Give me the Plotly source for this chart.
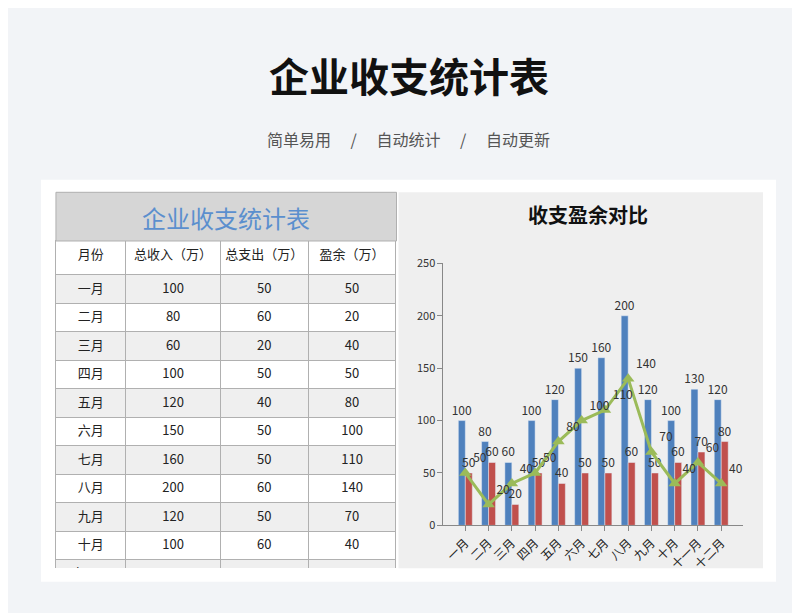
import plotly.graph_objects as go

months = ['一月', '二月', '三月', '四月', '五月', '六月', '七月', '八月', '九月', '十月', '十一月', '十二月']
income = [100, 80, 60, 100, 120, 150, 160, 200, 120, 100, 130, 120]
expense = [50, 60, 20, 50, 40, 50, 50, 60, 50, 60, 70, 80]
surplus = [50, 20, 40, 50, 80, 100, 110, 140, 70, 40, 60, 40]
headers = ['月份', '总收入（万）', '总支出（万）', '盈余（万）']

FONT = 'Noto Sans CJK SC'
fills = ['#efefef' if i % 2 == 0 else '#ffffff' for i in range(len(months))]

fig = go.Figure()

fig.add_trace(go.Table(
    domain=dict(x=[47/800, 388/800], y=[1-566/613, 1-230/613]),
    columnwidth=[70, 95, 88, 88],
    header=dict(values=headers, fill_color='white', line_color='#b0b0b0',
                font=dict(family=FONT, size=13, color='#222'), height=34, align='center'),
    cells=dict(values=[months, income, expense, surplus], fill_color=[fills]*4,
               line_color='#b0b0b0', font=dict(family=FONT, size=13, color='#222'),
               height=28.5, align='center'),
))

fig.add_trace(go.Bar(x=months, y=income, marker_color='#4f81bd', text=income,
                     textposition='outside', cliponaxis=False, width=0.3, offset=-0.3,
                     constraintext='none', textfont=dict(size=12, color='#333')))
fig.add_trace(go.Bar(x=months, y=expense, marker_color='#c0504d', text=expense,
                     textposition='outside', cliponaxis=False, width=0.3, offset=0.0,
                     constraintext='none', textfont=dict(size=12, color='#333')))
fig.add_trace(go.Scatter(x=months, y=surplus, mode='lines+markers+text', text=surplus,
                         textposition='top right', cliponaxis=False,
                         line=dict(color='#9bbb59', width=3),
                         marker=dict(symbol='triangle-up', size=11, color='#9bbb59'),
                         textfont=dict(size=12, color='#333')))

fig.update_layout(
    width=800, height=613, margin=dict(l=0, r=0, t=0, b=0),
    paper_bgcolor='#f2f4f7', plot_bgcolor='rgba(0,0,0,0)', showlegend=False,
    font=dict(family=FONT),
    barmode='overlay',
    xaxis=dict(domain=[435/800, 735/800], tickangle=-45, showgrid=False,
               showline=True, linecolor='#888', ticks='outside', tickcolor='#888',
               tickfont=dict(size=12, color='#222')),
    yaxis=dict(domain=[1-522/613, 1-253/613], range=[0, 250], dtick=50, showgrid=False,
               showline=True, linecolor='#888', ticks='outside', tickcolor='#888',
               tickfont=dict(size=11, color='#333'), zeroline=False),
    shapes=[
        dict(type='rect', xref='paper', yref='paper', x0=32/800, x1=768/800,
             y0=1-580/613, y1=1-167/613, fillcolor='white', line_width=0, layer='below'),
        dict(type='rect', xref='paper', yref='paper', x0=390/800, x1=755/800,
             y0=1-566/613, y1=1-180/613, fillcolor='#efefef', line_width=0, layer='below'),
        dict(type='rect', xref='paper', yref='paper', x0=47/800, x1=388/800,
             y0=1-230/613, y1=1-180/613, fillcolor='#d6d6d6', line=dict(color='#b0b0b0', width=1)),
    ],
    annotations=[
        dict(text='<b>企业收支统计表</b>', x=0.5, y=1-60/613, xref='paper', yref='paper',
             xanchor='center', yanchor='middle', showarrow=False, font=dict(size=40, color='#111')),
        dict(text='简单易用　 /　 自动统计　 /　 自动更新', x=0.5, y=1-125/613, xref='paper', yref='paper',
             xanchor='center', yanchor='middle', showarrow=False, font=dict(size=16, color='#555')),
        dict(text='企业收支统计表', x=217/800, y=1-206/613, xref='paper', yref='paper',
             xanchor='center', yanchor='middle', showarrow=False, font=dict(size=24, color='#5b8fce')),
        dict(text='<b>收支盈余对比</b>', x=580/800, y=1-203/613, xref='paper', yref='paper',
             xanchor='center', yanchor='middle', showarrow=False, font=dict(size=20, color='#111')),
    ],
)

fig.write_html('out.html')
